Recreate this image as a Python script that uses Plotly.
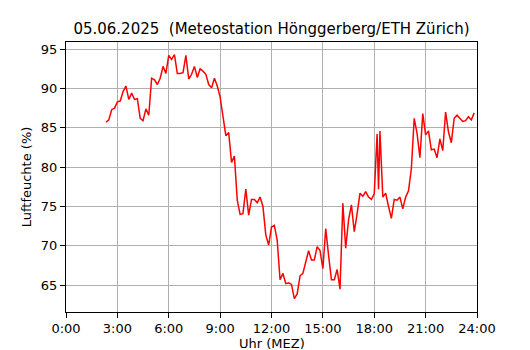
import plotly.graph_objects as go

times = ["02:20","02:30","02:40","02:50","03:00","03:10","03:20","03:30","03:40","03:50",
         "04:00","04:10","04:20","04:30","04:40","04:50","05:00","05:10","05:20","05:30",
         "05:40","05:50","06:00","06:10","06:20","06:30","06:40","06:50","07:00","07:10",
         "07:20","07:30","07:40","07:50","08:00","08:10","08:20","08:30","08:40","08:50",
         "09:00","09:10","09:20","09:30","09:40","09:50","10:00","10:10","10:20","10:30",
         "10:40","10:50","11:00","11:10","11:20","11:30","11:40","11:50","12:00","12:10",
         "12:20","12:30","12:40","12:50","13:00","13:10","13:20","13:30","13:40","13:50",
         "14:00","14:10","14:20","14:30","14:40","14:50","15:00","15:10","15:20","15:30",
         "15:40","15:50","16:00","16:10","16:20","16:30","16:40","16:50","17:00","17:10",
         "17:20","17:30","17:40","17:50","18:00","18:10","18:15","18:20","18:30","18:40",
         "18:50","19:00","19:10","19:20","19:30","19:40","19:50","20:00","20:10","20:20",
         "20:30","20:40","20:50","21:00","21:10","21:20","21:30","21:40","21:50","22:00",
         "22:10","22:20","22:30","22:40","22:50","23:00","23:10","23:20","23:30","23:40",
         "23:50"]

humidity = [85.7, 86.0, 87.3, 87.5, 88.3, 88.4, 89.6, 90.3, 88.6, 89.4,
            88.6, 88.7, 86.2, 85.9, 87.4, 86.6, 91.3, 91.1, 90.5, 91.3,
            92.8, 91.9, 94.2, 93.7, 94.3, 91.9, 91.9, 92.0, 94.2, 91.2,
            91.8, 92.8, 91.4, 92.5, 92.2, 91.8, 90.5, 90.1, 91.3, 90.3,
            88.9, 86.6, 84.0, 84.4, 80.6, 81.4, 75.8, 74.0, 74.1, 77.2,
            73.9, 75.9, 75.9, 75.5, 76.2, 75.0, 71.4, 70.1, 72.4, 72.6,
            70.7, 65.7, 66.5, 65.2, 65.3, 65.1, 63.3, 63.9, 66.2, 66.5,
            68.1, 69.4, 68.2, 68.2, 69.9, 69.4, 67.1, 72.2, 68.8, 65.7,
            65.7, 67.0, 64.5, 75.4, 69.7, 73.3, 75.2, 71.8, 74.1, 76.7,
            76.3, 76.9, 76.2, 75.9, 76.6, 84.2, 77.2, 84.6, 76.2, 76.7,
            75.0, 73.5, 75.9, 75.8, 76.2, 74.7, 76.2, 77.0, 79.8, 86.2,
            84.3, 81.2, 86.8, 84.1, 84.6, 82.2, 82.3, 81.2, 83.6, 82.1,
            87.0, 84.5, 83.1, 86.2, 86.6, 86.2, 85.8, 85.9, 86.4, 86.0,
            86.9]

tick_hours = [0, 3, 6, 9, 12, 15, 18, 21, 24]
tick_labels = ["0:00", "3:00", "6:00", "9:00", "12:00", "15:00", "18:00", "21:00", "24:00"]
y_ticks = [65, 70, 75, 80, 85, 90, 95]

title_text = "05.06.2025  (Meteostation Hönggerberg/ETH Zürich)"
x_title = "Uhr (MEZ)"
y_title = "Luftfeuchte (%)"

hours = [int(t.split(":")[0]) + int(t.split(":")[1]) / 60 for t in times]

fig = go.Figure()
fig.add_trace(go.Scatter(x=hours, y=humidity, mode="lines",
                         line=dict(color="#ff0000", width=1.5), showlegend=False))

font = "DejaVu Sans"
axis_common = dict(
    showline=True, linecolor="black", linewidth=1, mirror=True,
    showgrid=True, gridcolor="#b0b0b0", gridwidth=1,
    ticks="outside", ticklen=5, tickcolor="black", tickwidth=1,
    zeroline=False, automargin=False,
    tickfont=dict(family=font, size=13, color="black"),
)

# The page body has an 8px default margin, so the figure is sized to fit the window.
W, H = 522, 342
fig.update_layout(
    width=W, height=H,
    margin=dict(l=58, r=53, t=34, b=38, autoexpand=False),
    paper_bgcolor="white", plot_bgcolor="white",
    font=dict(family=font, color="black"),
    title=dict(text=title_text, x=0.5, xref="paper", y=1 - 21 / H, yref="container",
               yanchor="middle", xanchor="center", font=dict(family=font, size=15, color="black")),
    xaxis=dict(range=[0, 24], tickvals=tick_hours, ticktext=tick_labels,
               ticklabelstandoff=-1, **axis_common),
    yaxis=dict(range=[61.6, 95.9], tickvals=y_ticks,
               title=dict(text=y_title, font=dict(family=font, size=13), standoff=6),
               **axis_common),
    annotations=[dict(text=x_title, x=0.5, xref="paper", y=0, yref="paper",
                      xanchor="center", yanchor="middle", yshift=-31, showarrow=False,
                      borderpad=0,
                      font=dict(family=font, size=13, color="black"))],
)

fig.write_html("out.html")
